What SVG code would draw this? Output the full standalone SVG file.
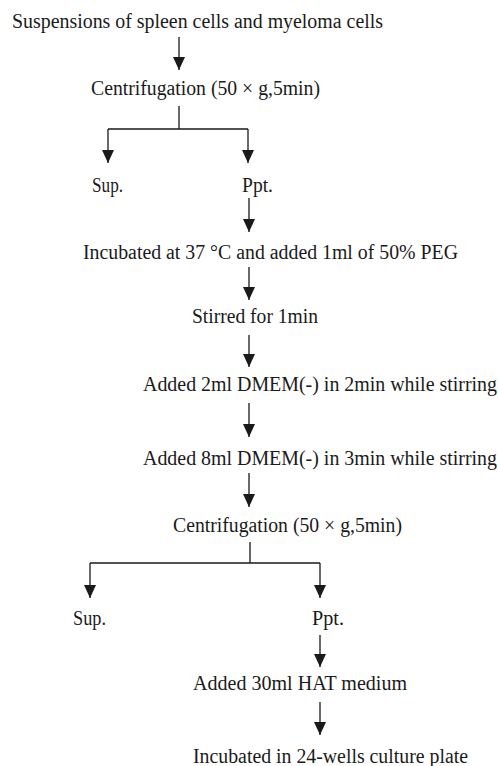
<svg xmlns="http://www.w3.org/2000/svg" width="498" height="766" viewBox="0 0 498 766">
<style>
text{font-family:"Liberation Serif","Times New Roman",serif;font-size:20px;fill:#1a1a1a}
.c{stroke:#1a1a1a;stroke-width:1.3;fill:none}
</style>
<defs>
<marker id="ah" markerUnits="userSpaceOnUse" markerWidth="13" markerHeight="12" refX="13" refY="6" orient="auto" viewBox="0 0 13 12">
<path d="M0,0 L13,6 L0,12 Z" fill="#1a1a1a"/>
</marker>
</defs>
<rect width="498" height="766" fill="#fff"/>
<g id="connectors">
<path class="c" d="M179,37 V70" marker-end="url(#ah)"/>
<path class="c" d="M179,106 V129 M108,129 H248"/>
<path class="c" d="M108,129 V163" marker-end="url(#ah)"/>
<path class="c" d="M248,129 V163" marker-end="url(#ah)"/>
<path class="c" d="M249,198 V232" marker-end="url(#ah)"/>
<path class="c" d="M249,267 V300" marker-end="url(#ah)"/>
<path class="c" d="M249,335 V367" marker-end="url(#ah)"/>
<path class="c" d="M249,403 V437" marker-end="url(#ah)"/>
<path class="c" d="M249,473 V507" marker-end="url(#ah)"/>
<path class="c" d="M250,542 V563 M90,563 H320"/>
<path class="c" d="M90,563 V598" marker-end="url(#ah)"/>
<path class="c" d="M320,563 V598" marker-end="url(#ah)"/>
<path class="c" d="M320,635 V667" marker-end="url(#ah)"/>
<path class="c" d="M320,702 V735" marker-end="url(#ah)"/>
</g>
<g id="n1"><text x="12" y="28" textLength="371" lengthAdjust="spacingAndGlyphs">Suspensions of spleen cells and myeloma cells</text></g>
<g id="n2"><text x="91" y="95" textLength="229" lengthAdjust="spacingAndGlyphs">Centrifugation (50 × g,5min)</text></g>
<g id="n3"><text x="92" y="192" textLength="31" lengthAdjust="spacingAndGlyphs">Sup.</text></g>
<g id="n4"><text x="242" y="192" textLength="31" lengthAdjust="spacingAndGlyphs">Ppt.</text></g>
<g id="n5"><text x="83" y="259" textLength="375" lengthAdjust="spacingAndGlyphs">Incubated at 37 °C and added 1ml of 50% PEG</text></g>
<g id="n6"><text x="192" y="323" textLength="126" lengthAdjust="spacingAndGlyphs">Stirred for 1min</text></g>
<g id="n7"><text x="143" y="391" textLength="354" lengthAdjust="spacingAndGlyphs">Added 2ml DMEM(-) in 2min while stirring</text></g>
<g id="n8"><text x="143" y="465" textLength="354" lengthAdjust="spacingAndGlyphs">Added 8ml DMEM(-) in 3min while stirring</text></g>
<g id="n9"><text x="173" y="532" textLength="229" lengthAdjust="spacingAndGlyphs">Centrifugation (50 × g,5min)</text></g>
<g id="n10"><text x="73" y="625" textLength="33" lengthAdjust="spacingAndGlyphs">Sup.</text></g>
<g id="n11"><text x="312" y="625" textLength="32" lengthAdjust="spacingAndGlyphs">Ppt.</text></g>
<g id="n12"><text x="193" y="690" textLength="214" lengthAdjust="spacingAndGlyphs">Added 30ml HAT medium</text></g>
<g id="n13"><text x="193" y="763" textLength="275" lengthAdjust="spacingAndGlyphs">Incubated in 24-wells culture plate</text></g>
</svg>
